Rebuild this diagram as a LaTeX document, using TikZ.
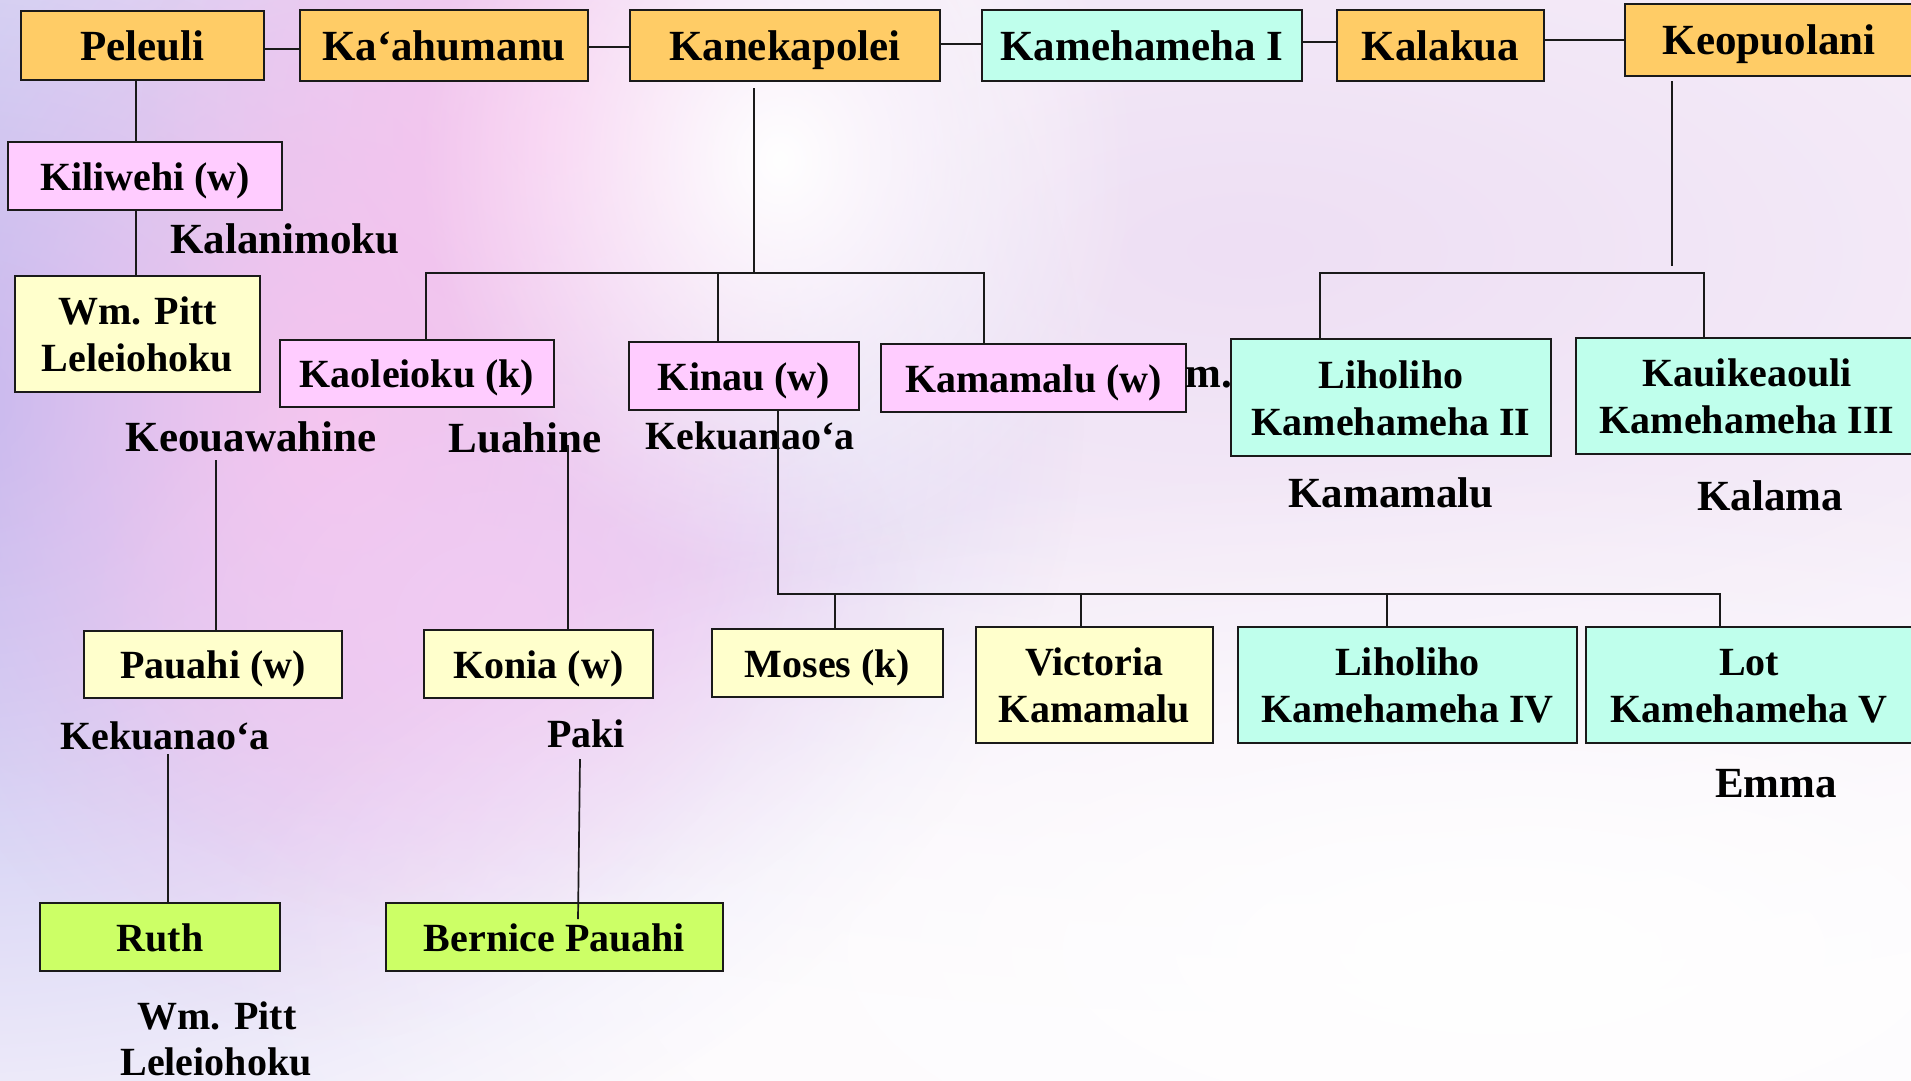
\documentclass[tikz,border=0pt]{standalone}
\usepackage{fontspec}
\setmainfont{Liberation Serif}
\usetikzlibrary{fadings}
\definecolor{orangeC}{HTML}{FFCC66}
\definecolor{pinkC}{HTML}{FFCCFF}
\definecolor{cyanC}{HTML}{BFFFEC}
\definecolor{yellowC}{HTML}{FFFFCC}
\definecolor{limeC}{HTML}{CCFF66}
\definecolor{bgbase}{HTML}{FCF9FD}
\definecolor{lavA}{HTML}{B9B5EE}
\definecolor{pinkA}{HTML}{F7C4EE}
\definecolor{pinkB}{HTML}{F1CBF3}
\definecolor{lavB}{HTML}{EEDFF4}
\definecolor{lineC}{HTML}{1A1A1A}
\tikzfading[name=blob, inner color=transparent!0, outer color=transparent!100]
\begin{document}
\begin{tikzpicture}[x=1pt,y=-1pt,
  big/.style={font=\fontsize{43}{50}\selectfont\bfseries},
  small/.style={font=\fontsize{40}{47}\selectfont\bfseries},
  box/.style={draw=lineC, line width=2pt, inner sep=0pt},
  top/.style={box, big, text height=30pt, text depth=0pt},
  one/.style={box, small, text height=28pt, text depth=0pt},
  two/.style={box, small, align=center, text height=75pt, text depth=0pt},
  lbl/.style={anchor=base, inner sep=0pt, big},
  slbl/.style={anchor=base, inner sep=0pt, small},
  conn/.style={draw=lineC, line width=1.7pt}
]
% ---------- background ----------
\useasboundingbox (0,0) rectangle (1911,1081);
\fill[bgbase] (0,0) rectangle (1911,1081);
\fill[lavB, path fading=blob] (1250,250) ellipse (1700 and 760);
\fill[lavA, path fading=blob] (-60,400) ellipse (1150 and 880);
\fill[pinkA, path fading=blob] (340,420) ellipse (470 and 620);
\fill[pinkA, path fading=blob] (560,130) ellipse (420 and 400);
\fill[pinkB, path fading=blob] (500,620) ellipse (420 and 320);
\fill[white, path fading=blob] (780,160) ellipse (360 and 420);
\fill[white, path fading=blob] (1500,950) ellipse (1300 and 500);

% ---------- boxes ----------
\node[top,fill=orangeC,minimum width=243,minimum height=69] (pel) at (142.5,45.5) {Peleuli};
\node[top,fill=orangeC,minimum width=288,minimum height=71] (kaa) at (444,45.5) {Ka‘ahumanu};
\node[top,fill=orangeC,minimum width=310,minimum height=71] (kan) at (785,45.5) {Kanekapolei};
\node[top,fill=cyanC,minimum width=320,minimum height=71] (kam) at (1142,45.5) {Kamehameha I};
\node[top,fill=orangeC,minimum width=207,minimum height=71] (kal) at (1440.5,45.5) {Kalakua};
\node[top,fill=orangeC,minimum width=288,minimum height=72] (keo) at (1769,40) {Keopuolani};

\node[one,fill=pinkC,minimum width=274,minimum height=68] (kil) at (145,176) {Kiliwehi (w)};
\node[two,fill=yellowC,minimum width=245,minimum height=116] (wmp) at (137.5,334) {Wm. Pitt\\Leleiohoku};

\node[one,fill=pinkC,minimum width=274,minimum height=67] (kao) at (417,373.5) {Kaoleioku (k)};
\node[one,fill=pinkC,minimum width=230,minimum height=68] (kin) at (744,376) {Kinau (w)};
\node[one,fill=pinkC,minimum width=305,minimum height=68] (kmm) at (1033.5,378) {Kamamalu (w)};
\node[two,fill=cyanC,minimum width=320,minimum height=117] (lh2) at (1391,397.5) {Liholiho\\Kamehameha II};
\node[two,fill=cyanC,minimum width=342,minimum height=116] (k3) at (1747,396) {Kauikeaouli\\Kamehameha III};

\node[one,fill=yellowC,minimum width=258,minimum height=67] (pau) at (213,664.5) {Pauahi (w)};
\node[one,fill=yellowC,minimum width=229,minimum height=68] (kon) at (538.5,664) {Konia (w)};
\node[one,fill=yellowC,minimum width=231,minimum height=68] (mos) at (827.5,663) {Moses (k)};
\node[two,fill=yellowC,minimum width=237,minimum height=116] (vic) at (1094.5,685) {Victoria\\Kamamalu};
\node[two,fill=cyanC,minimum width=339,minimum height=116] (lh4) at (1407.5,685) {Liholiho\\Kamehameha IV};
\node[two,fill=cyanC,minimum width=326,minimum height=116] (lot) at (1749,685) {Lot\\Kamehameha V};

\node[one,fill=limeC,minimum width=240,minimum height=68] (ruth) at (160,937) {Ruth};
\node[one,fill=limeC,minimum width=337,minimum height=68] (ber) at (554.5,937) {Bernice Pauahi};

% ---------- labels ----------
\node[lbl] (lkal) at (285,253) {Kalanimoku};
\node[lbl] (lkeou) at (251,451) {Keouawahine};
\node[lbl] (llua) at (525,452) {Luahine};
\node[slbl] (lkek1) at (750,449) {Kekuanao‘a};
\node[lbl] (lm) at (1209,387) {m.};
\node[lbl] (lkamam) at (1391,507) {Kamamalu};
\node[lbl] (lkalama) at (1770,510) {Kalama};
\node[slbl] (lkek2) at (165,749) {Kekuanao‘a};
\node[slbl] (lpaki) at (586,747) {Paki};
\node[lbl] (lemma) at (1776,797) {Emma};
\node[slbl] (lwm1) at (217,1029) {Wm. Pitt};
\node[slbl] (lwm2) at (216,1075) {Leleiohoku};

% ---------- connectors: top row ----------
\coordinate (yT1) at (0,49);
\coordinate (yT2) at (0,47);
\coordinate (yT3) at (0,44);
\coordinate (yT4) at (0,42);
\coordinate (yT5) at (0,40);
\draw[conn] (pel.east |- yT1) -- (kaa.west |- yT1);
\draw[conn] (kaa.east |- yT2) -- (kan.west |- yT2);
\draw[conn] (kan.east |- yT3) -- (kam.west |- yT3);
\draw[conn] (kam.east |- yT4) -- (kal.west |- yT4);
\draw[conn] (kal.east |- yT5) -- (keo.west |- yT5);

% Peleuli line
\coordinate (xA) at (136,0);
\draw[conn] (xA |- pel.south) -- (xA |- kil.north);
\draw[conn] (xA |- kil.south) -- (xA |- wmp.north);

% Kanekapolei family
\coordinate (kanB) at (754,88);
\coordinate (b1L) at (426,273);
\coordinate (b1R) at (984,273);
\coordinate (b1K) at (718,273);
\draw[conn] (kanB) -- (kanB |- b1L);
\draw[conn] (b1L |- kao.north) -- (b1L) -- (b1R) -- (b1R |- kmm.north);
\draw[conn] (b1K) -- (b1K |- kin.north);

% Keopuolani family
\coordinate (keoB) at (1672,81);
\coordinate (keoE) at (1672,266);
\coordinate (b2L) at (1320,273);
\coordinate (b2R) at (1704,273);
\draw[conn] (keoB) -- (keoE);
\draw[conn] (b2L |- lh2.north) -- (b2L) -- (b2R) -- (b2R |- k3.north);

% lower lines
\coordinate (keouB) at (216,460);
\draw[conn] (keouB) -- (keouB |- pau.north);
\coordinate (luaB) at (568,445);
\draw[conn] (luaB) -- (luaB |- kon.north);

\coordinate (b3L) at (778,594);
\coordinate (b3R) at (1720,594);
\draw[conn] (b3L |- kin.south) -- (b3L) -- (b3R) -- (b3R |- lot.north);
\coordinate (d1) at (835,594);
\coordinate (d2) at (1081,594);
\coordinate (d3) at (1387,594);
\draw[conn] (d1) -- (d1 |- mos.north);
\draw[conn] (d2) -- (d2 |- vic.north);
\draw[conn] (d3) -- (d3 |- lh4.north);

\coordinate (kekB) at (168,754);
\draw[conn] (kekB) -- (kekB |- ruth.north);
\coordinate (pakB) at (580,759);
\coordinate (pakE) at (578,919);
\draw[conn] (pakB) -- (pakE);
\end{tikzpicture}
\end{document}
